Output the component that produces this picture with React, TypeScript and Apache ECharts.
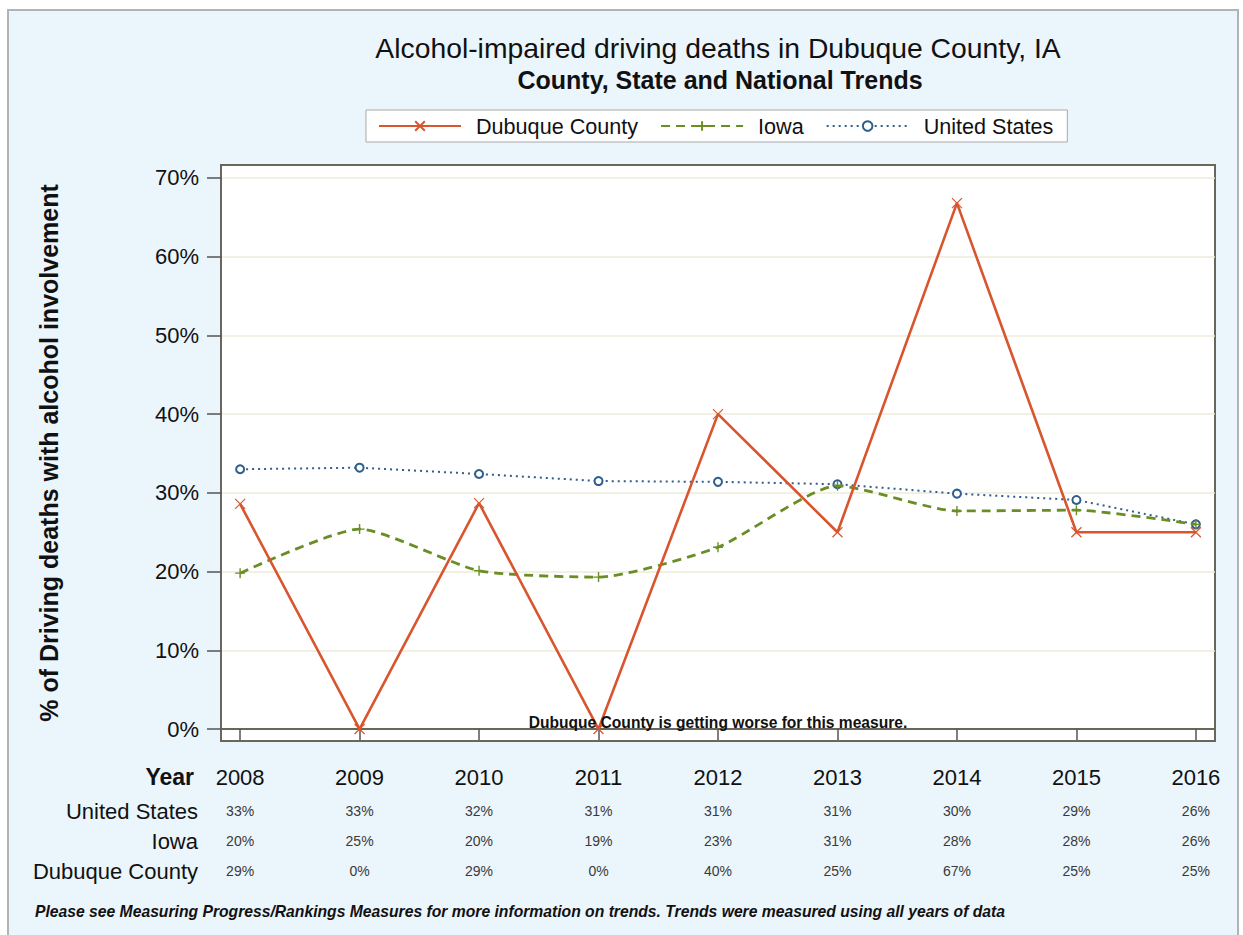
import React, { useEffect, useRef } from "react";
import * as echarts from "echarts";

const years = [2008, 2009, 2010, 2011, 2012, 2013, 2014, 2015, 2016];
const dubuque = [28.6, 0, 28.7, 0, 40.0, 25.0, 66.8, 25.0, 25.0];
const iowa = [19.8, 25.4, 20.1, 19.3, 23.1, 30.9, 27.7, 27.8, 26.0];
const us = [33.0, 33.2, 32.4, 31.5, 31.4, 31.1, 29.9, 29.1, 26.0];
const yTicks = [0, 10, 20, 30, 40, 50, 60, 70];
const tableUS = ["33%", "33%", "32%", "31%", "31%", "31%", "30%", "29%", "26%"];
const tableIowa = ["20%", "25%", "20%", "19%", "23%", "31%", "28%", "28%", "26%"];
const tableDubuque = ["29%", "0%", "29%", "0%", "40%", "25%", "67%", "25%", "25%"];
const tableRows = ["United States", "Iowa", "Dubuque County"];

const FONT = "'Liberation Sans', Arial, sans-serif";
const RED = "#D8552E";
const GREEN = "#6A8E24";
const BLUE = "#2F5E8C";

function pairs(vals: number[]) {
  return years.map((y, i) => [y, vals[i]]);
}

function tableAxis(vals: string[], offset: number) {
  return {
    type: "value",
    gridIndex: 0,
    position: "bottom",
    min: 2007.84,
    max: 2016.16,
    offset,
    axisLine: { show: false },
    axisTick: { show: false },
    splitLine: { show: false },
    axisLabel: {
      customValues: years,
      margin: 8,
      fontSize: 14,
      fontFamily: FONT,
      color: "#3a3a3a",
      formatter: (v: number) => vals[Math.round(v) - 2008] ?? "",
    },
  };
}

export default function App() {
  const ref = useRef<HTMLDivElement>(null);
  useEffect(() => {
    const chart = echarts.init(ref.current!, null, { renderer: "svg" });
    const option: any = {
      animation: false,
      backgroundColor: "#ffffff",
      textStyle: { fontFamily: FONT },
      grid: {
        left: 221,
        right: 28,
        top: 165,
        bottom: 194,
        show: true,
        backgroundColor: "#ffffff",
        borderColor: "#6B665C",
        borderWidth: 2,
      },
      legend: {
        top: 110,
        left: 366,
        padding: [5, 14, 5, 12],
        itemGap: 22,
        itemWidth: 82,
        itemHeight: 12,
        backgroundColor: "#ffffff",
        borderColor: "#A8A8A8",
        borderWidth: 1,
        borderRadius: 0,
        textStyle: { fontSize: 21.6, fontFamily: FONT, color: "#111", padding: [0, 0, 0, 10] },
        data: ["Dubuque County", "Iowa", "United States"],
      },
      xAxis: [
        {
          type: "value",
          gridIndex: 0,
          position: "bottom",
          min: 2007.84,
          max: 2016.16,
          axisLine: { show: true, lineStyle: { color: "#6B665C", width: 2 } },
          axisTick: {
            show: true,
            customValues: years,
            length: 11,
            lineStyle: { color: "#555", width: 1.5 },
          },
          axisLabel: {
            customValues: years,
            margin: 25,
            fontSize: 22,
            fontFamily: FONT,
            color: "#111",
            formatter: (v: number) => String(Math.round(v)),
          },
          splitLine: { show: false },
        },
        tableAxis(tableUS, 55),
        tableAxis(tableIowa, 85),
        tableAxis(tableDubuque, 115),
      ],
      yAxis: {
        type: "value",
        min: -1.52,
        max: 71.65,
        name: "% of Driving deaths with alcohol involvement",
        nameLocation: "middle",
        nameRotate: 90,
        nameGap: 160,
        nameTextStyle: { fontSize: 25, fontWeight: "bold", color: "#111", fontFamily: FONT },
        axisLine: { show: true, lineStyle: { color: "#6B665C", width: 2 } },
        axisTick: {
          show: true,
          customValues: yTicks,
          length: 14,
          lineStyle: { color: "#555", width: 1.5 },
        },
        axisLabel: {
          customValues: yTicks,
          margin: 22,
          fontSize: 22,
          fontFamily: FONT,
          color: "#111",
          formatter: (v: number) => Math.round(v) + "%",
        },
        splitLine: { show: true, lineStyle: { color: "#EEEBD9", width: 1.5 } },
      },
      series: [
        {
          name: "Dubuque County",
          type: "line",
          data: pairs(dubuque),
          symbol: "path://M0,0L10,10M10,0L0,10",
          symbolSize: 10,
          showAllSymbol: true,
          lineStyle: { color: RED, width: 2.6 },
          itemStyle: { color: "rgba(0,0,0,0)", borderColor: RED, borderWidth: 1.2 },
          z: 4,
        },
        {
          name: "Iowa",
          type: "line",
          data: pairs(iowa),
          smooth: 0.2,
          symbol: "path://M5,0L5,10M0,5L10,5",
          symbolSize: 10,
          lineStyle: { color: GREEN, width: 2.8, type: [9, 6] },
          itemStyle: { color: "rgba(0,0,0,0)", borderColor: GREEN, borderWidth: 1.4 },
          z: 3,
        },
        {
          name: "United States",
          type: "line",
          data: pairs(us),
          symbol: "emptyCircle",
          symbolSize: 8,
          lineStyle: { color: BLUE, width: 2, type: [2, 4] },
          itemStyle: { color: BLUE, borderColor: BLUE, borderWidth: 1.2 },
          z: 2,
        },
      ],
      graphic: [
        {
          type: "rect",
          z: -10,
          silent: true,
          shape: { x: 8, y: 10, width: 1230, height: 940 },
          style: { fill: "#EBF5FC", stroke: "#B3B3B3", lineWidth: 2 },
        },
        {
          type: "text",
          x: 718,
          y: 48,
          style: {
            text: "Alcohol-impaired driving deaths in Dubuque County, IA",
            font: `28.3px ${FONT}`,
            fill: "#111",
            textAlign: "center",
            textVerticalAlign: "middle",
          },
        },
        {
          type: "text",
          x: 720,
          y: 80,
          style: {
            text: "County, State and National Trends",
            font: `bold 25px ${FONT}`,
            fill: "#111",
            textAlign: "center",
            textVerticalAlign: "middle",
          },
        },
        {
          type: "text",
          x: 718,
          y: 722,
          z: 100,
          style: {
            text: "Dubuque County is getting worse for this measure.",
            font: `bold 15.6px ${FONT}`,
            fill: "#111",
            textAlign: "center",
            textVerticalAlign: "middle",
          },
        },
        {
          type: "text",
          x: 194,
          y: 777,
          style: {
            text: "Year",
            font: `bold 23px ${FONT}`,
            fill: "#111",
            textAlign: "right",
            textVerticalAlign: "middle",
          },
        },
        ...tableRows.map((t, i) => ({
          type: "text",
          x: 198,
          y: 811 + i * 30,
          style: {
            text: t,
            font: `22px ${FONT}`,
            fill: "#111",
            textAlign: "right",
            textVerticalAlign: "middle",
          },
        })),
        {
          type: "text",
          x: 35,
          y: 911,
          style: {
            text: "Please see Measuring Progress/Rankings Measures for more information on trends. Trends were measured using all years of data",
            font: `italic bold 15.7px ${FONT}`,
            fill: "#111",
            textAlign: "left",
            textVerticalAlign: "middle",
          },
        },
      ],
    };
    chart.setOption(option);
    return () => chart.dispose();
  }, []);
  return (
    <div
      ref={ref}
      style={{ position: "absolute", left: 0, top: 0, width: 1243, height: 935 }}
    />
  );
}
